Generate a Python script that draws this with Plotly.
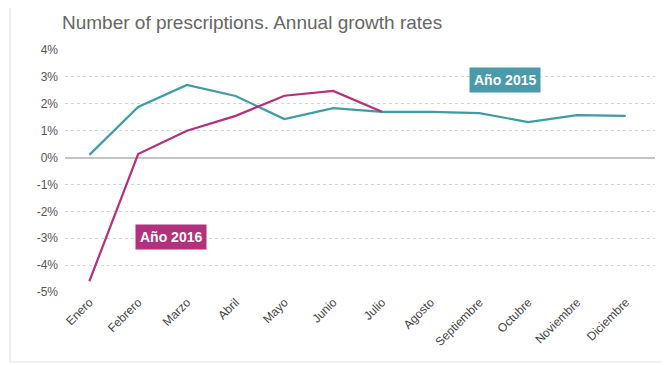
import plotly.graph_objects as go

months = ["Enero", "Febrero", "Marzo", "Abril", "Mayo", "Junio", "Julio",
          "Agosto", "Septiembre", "Octubre", "Noviembre", "Diciembre"]
y2015 = [0.10, 1.88, 2.70, 2.29, 1.43, 1.84, 1.70, 1.70, 1.65, 1.32, 1.58, 1.55]
y2016 = [-4.60, 0.13, 1.00, 1.55, 2.30, 2.48, 1.70]
y_ticks = [4, 3, 2, 1, 0, -1, -2, -3, -4, -5]
y_tick_labels = [f"{v}%" for v in y_ticks]

teal = "#3f9ca6"
magenta = "#b5307a"

fig = go.Figure()
fig.add_trace(go.Scatter(x=months, y=y2015, mode="lines",
                         line=dict(color=teal, width=2.2), name="Año 2015"))
fig.add_trace(go.Scatter(x=months[:len(y2016)], y=y2016, mode="lines",
                         line=dict(color=magenta, width=2.2), name="Año 2016"))

fig.add_annotation(x=8.52, y=2.88, xref="x", yref="y", text="<b>Año 2015</b>",
                   showarrow=False, font=dict(color="white", size=14, family="Liberation Sans"),
                   bgcolor="#4a9aaa", borderpad=4)
fig.add_annotation(x=1.67, y=-2.95, xref="x", yref="y", text="<b>Año 2016</b>",
                   showarrow=False, font=dict(color="white", size=14, family="Liberation Sans"),
                   bgcolor="#b3307c", borderpad=4)

W, H = 661, 357
L, R, T, B = 57, 14, 42, 73
pw, ph = W - L - R, H - T - B

fig.update_layout(
    width=W, height=H,
    margin=dict(l=L, r=R, t=T, b=B),
    paper_bgcolor="white", plot_bgcolor="white",
    showlegend=False,
    font=dict(family="Liberation Sans, Arial", color="#444"),
    title=dict(text="Number of prescriptions. Annual growth rates",
               x=54 / W, xanchor="left", y=1 - 14 / H, yanchor="middle",
               font=dict(size=19, color="#666")),
    xaxis=dict(type="category", range=[-0.5, 11.6], showgrid=False,
               tickangle=-45, tickfont=dict(size=12, color="#444"),
               showline=False, ticks="", automargin=False),
    yaxis=dict(range=[-5, 4], tickvals=y_ticks, ticktext=y_tick_labels,
               tickfont=dict(size=12, color="#555"),
               showgrid=True, gridcolor="#d4d4d4", griddash="dot", gridwidth=1,
               zeroline=True, zerolinecolor="#c4c4c4", zerolinewidth=2,
               ticks="", ticklabelstandoff=6, automargin=False),
    shapes=[dict(type="rect", xref="paper", yref="paper",
                 x0=(2 - L) / pw, x1=1.2, y0=-(354 - (T + ph)) / ph, y1=1 + (T + 5) / ph,
                 line=dict(color="#ececec", width=1.5), layer="below")],
)

fig.write_html("out.html")
